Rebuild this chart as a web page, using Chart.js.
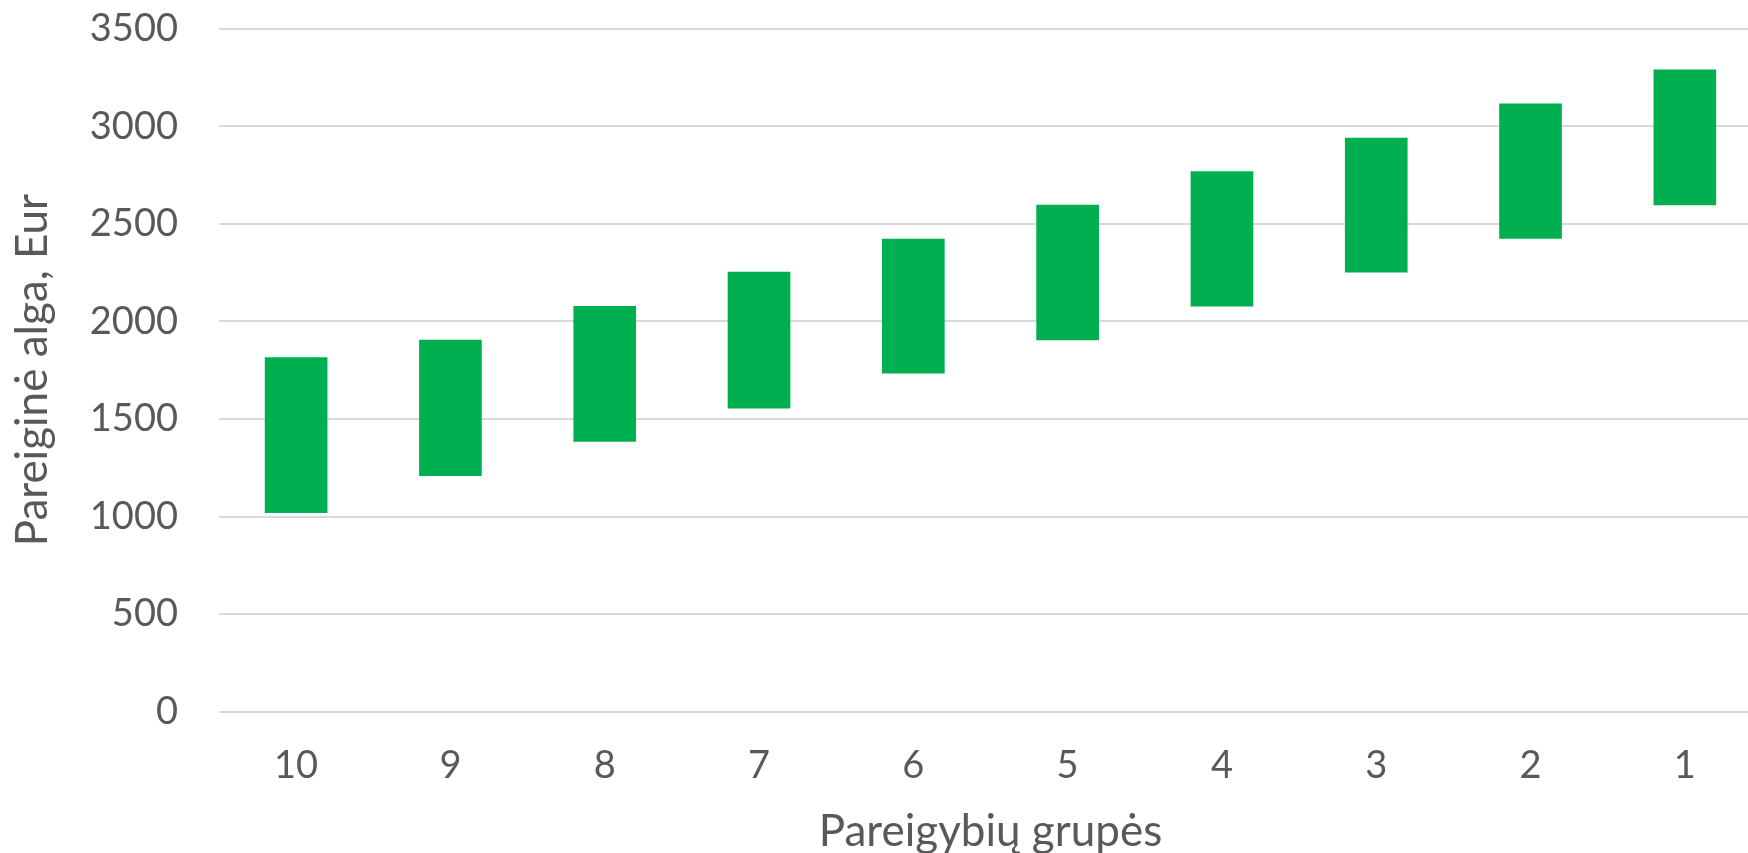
<!DOCTYPE html>
<html>
<head>
<meta charset="utf-8">
<script src="https://cdn.jsdelivr.net/npm/chart.js@4.4.1/dist/chart.umd.min.js"></script>
<style>
  html, body { margin: 0; padding: 0; background: #ffffff; overflow: hidden; }
  #wrap { position: absolute; left: 0; top: -35px; width: 1762px; height: 890px; }
</style>
</head>
<body>
<div id="wrap"><canvas id="c"></canvas></div>
<script>
const categories = ["10", "9", "8", "7", "6", "5", "4", "3", "2", "1"];
const lowValues  = [1020, 1210, 1385, 1555, 1735, 1905, 2078, 2253, 2425, 2597];
const highValues = [1815, 1905, 2078, 2253, 2422, 2597, 2768, 2940, 3115, 3290];
const yTicks = [0, 500, 1000, 1500, 2000, 2500, 3000, 3500];
const xTitle = "Pareigybių grupės";
const yTitle = "Pareiginė alga, Eur";

const ranges = categories.map((c, i) => [lowValues[i], highValues[i]]);
const textColor = "#595959";
const fontFamily = "Lato, 'Open Sans', sans-serif";

new Chart(document.getElementById("c"), {
  type: "bar",
  data: {
    labels: categories,
    datasets: [{
      data: ranges,
      backgroundColor: "#00B050",
      borderWidth: 0,
      barThickness: 62
    }]
  },
  options: {
    responsive: true,
    maintainAspectRatio: false,
    animation: false,
    layout: { padding: { top: -20, right: 0, bottom: -3, left: 6 } },
    plugins: { legend: { display: false }, tooltip: { enabled: false } },
    scales: {
      x: {
        grid: { display: false, drawTicks: false },
        border: { display: false },
        ticks: { color: textColor, font: { family: fontFamily, size: 38 }, padding: 31 },
        title: { display: true, text: xTitle, color: textColor,
                 font: { family: fontFamily, size: 44 }, padding: { top: -14, bottom: 0 } }
      },
      y: {
        min: 0, max: 3500,
        afterBuildTicks: (axis) => { axis.ticks = yTicks.map(v => ({ value: v })); },
        grid: { color: "#d9d9d9", lineWidth: 2, drawTicks: false },
        border: { display: false },
        ticks: { color: textColor, font: { family: fontFamily, size: 38 }, padding: 41,
                 callback: (v) => String(v) },
        title: { display: true, text: yTitle, color: textColor,
                 font: { family: fontFamily, size: 44 }, padding: { top: 0, bottom: -10 } }
      }
    }
  }
});
</script>
</body>
</html>
